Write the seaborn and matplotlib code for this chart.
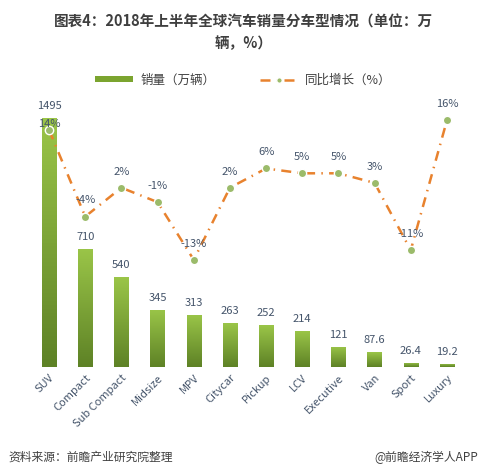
import numpy as np
import pandas as pd
import seaborn as sns
import matplotlib.pyplot as plt
from matplotlib.lines import Line2D
from matplotlib.patches import Patch
from matplotlib.colors import LinearSegmentedColormap

categories = ['SUV', 'Compact', 'Sub Compact', 'Midsize', 'MPV', 'Citycar',
              'Pickup', 'LCV', 'Executive', 'Van', 'Sport', 'Luxury']
sales = [1495, 710, 540, 345, 313, 263, 252, 214, 121, 87.6, 26.4, 19.2]
sales_labels = ['1495', '710', '540', '345', '313', '263', '252', '214', '121', '87.6', '26.4', '19.2']
growth = [14, -4, 2, -1, -13, 2, 6, 5, 5, 3, -11, 16]

df = pd.DataFrame({'cat': categories, 'sales': sales, 'growth': growth})
df['pos'] = range(len(df))

sns.set_theme(style='white')
plt.rcParams['font.family'] = ['Noto Sans CJK SC', 'DejaVu Sans']
plt.rcParams['axes.unicode_minus'] = False

txt = '#44546A'
line_c = '#E8822E'
dash = (0, (4, 2.5, 0.6, 2.5))

fig = plt.figure(figsize=(4.87, 4.75), dpi=100)
ax = fig.add_axes([31 / 487, 1 - 367 / 475, 434 / 487, 267 / 475])

sns.barplot(data=df, x='cat', y='sales', color='#7BA42F', width=0.4,
            saturation=1, ax=ax)
ymax = 1495 * 267 / 249

# vertical gradient inside each bar
grad = np.linspace(0, 1, 64).reshape(-1, 1)
cmap = LinearSegmentedColormap.from_list('g', ['#5E8226', '#9AC548'])
for bar in list(ax.patches):
    x0, y0 = bar.get_x(), bar.get_y()
    w, h = bar.get_width(), bar.get_height()
    im = ax.imshow(grad, extent=[x0, x0 + w, y0, y0 + h], origin='lower',
                   cmap=cmap, aspect='auto', zorder=2)
    im.set_clip_path(bar)
ax.set_xlim(-0.5, 11.5)
ax.set_ylim(0, ymax)

for i, (v, lab) in enumerate(zip(sales, sales_labels)):
    ax.annotate(lab, (i, v), xytext=(0, 5), textcoords='offset points',
                ha='center', va='bottom', fontsize=8, color=txt)

ax.set_xlabel('')
ax.set_ylabel('')
ax.set_yticks([])
ax.set_xticks(range(len(categories)))
ax.set_xticklabels(categories, rotation=45, ha='right', rotation_mode='anchor',
                   fontsize=8, color=txt)
ax.tick_params(axis='x', length=0, pad=4)
for s in ax.spines.values():
    s.set_visible(False)

ax2 = ax.twinx()
sns.lineplot(data=df, x='pos', y='growth', ax=ax2, color=line_c, lw=1.8,
             linestyle=dash, marker='o', markersize=6,
             markerfacecolor='#9BBB6A', markeredgecolor='white',
             markeredgewidth=1, sort=False)
ax2.set_ylim(-35.3, 20.25)
ax2.set_yticks([])
ax2.set_ylabel('')
ax2.set_xlabel('')
for s in ax2.spines.values():
    s.set_visible(False)
for i, g in enumerate(growth):
    off = 1 if i == 0 else 8
    ax2.annotate(f'{g}%', (i, g), xytext=(0, off), textcoords='offset points',
                 ha='center', va='bottom', fontsize=8, color=txt)
ax.set_xlim(-0.5, 11.5)

fig.text(0.5, 1 - 22 / 475, '图表4：2018年上半年全球汽车销量分车型情况（单位：万',
         ha='center', va='center', fontsize=10.5, fontweight='bold', color='#3F3F3F')
fig.text(0.5, 1 - 43 / 475, '辆，%）', ha='center', va='center',
         fontsize=10.5, fontweight='bold', color='#3F3F3F')

handles = [Patch(facecolor='#7BA42F', edgecolor='none'),
           Line2D([0], [0], color=line_c, lw=1.8, linestyle=dash,
                  marker='o', markersize=4, markerfacecolor='#9BBB6A',
                  markeredgecolor='white')]
fig.legend(handles, ['销量（万辆）', '同比增长（%）'], loc='center',
           bbox_to_anchor=(0.5, 1 - 80 / 475), ncol=2, frameon=False,
           fontsize=9, handlelength=3.0, handleheight=0.45, handletextpad=0.6,
           columnspacing=3.6, labelcolor='#404040')

fig.text(8 / 487, 1 - 457 / 475, '资料来源：前瞻产业研究院整理', ha='left', va='center',
         fontsize=8.5, style='italic', color='#404040')
fig.text(478 / 487, 1 - 457 / 475, '@前瞻经济学人APP', ha='right', va='center',
         fontsize=8.5, color='#404040')

fig.savefig('out.png', dpi=100)
